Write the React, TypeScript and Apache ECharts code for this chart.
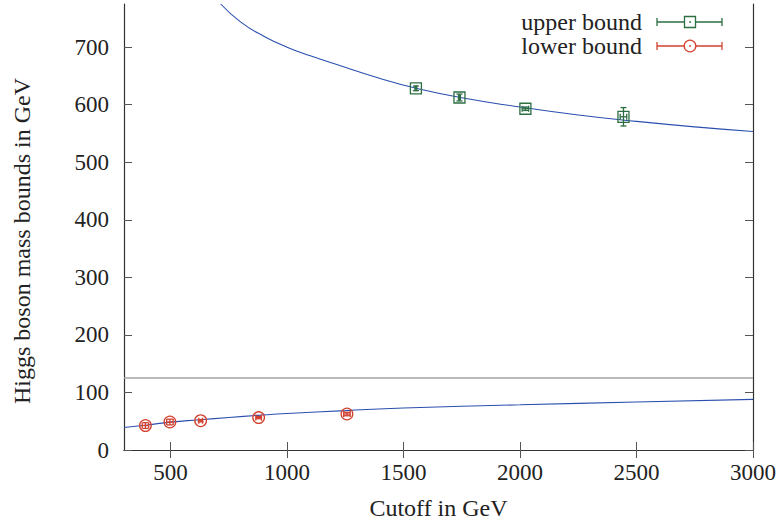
import React, { useEffect, useRef } from "react";
import * as echarts from "echarts";

// ---- data ----
const xMin = 300;
const xMax = 3000;
const yMin = 0;
const yMax = 775;
const xTicks = [500, 1000, 1500, 2000, 2500, 3000];
const yTicks = [0, 100, 200, 300, 400, 500, 600, 700];

const higgsMass = 125;

const upperCurveX = [715, 800, 900, 1000, 1100, 1200, 1400, 1550, 1750, 2000, 2250, 2500, 2750, 3000];
const upperCurveY = [775, 744, 719, 700, 685, 671.5, 645.5, 629, 612, 596, 582, 571, 561.5, 553.5];

const lowerCurveX = [300, 400, 500, 625, 750, 875, 1000, 1250, 1500, 2000, 2500, 3000];
const lowerCurveY = [39, 43.5, 48.5, 52.5, 56.5, 60.2, 63.5, 68.5, 73, 78.5, 83.5, 88];

const upperX = [1553, 1740, 2023, 2444];
const upperY = [628.5, 612.5, 593, 579];
const upperXErr = [4, 4, 14, 14];
const upperYErr = [4, 6, 3, 16];

const lowerX = [392, 497, 629, 878, 1257];
const lowerY = [42.5, 48.6, 50.9, 56.3, 62.5];
const lowerXErr = [14, 14, 8, 12, 14];
const lowerYErr = [5, 5, 2, 2, 3];

const legendNames = ["upper bound", "lower bound"];
const xTitle = "Cutoff in GeV";
const yTitle = "Higgs boson mass bounds in GeV";

// ---- styles ----
const FONT = "'Liberation Serif', serif";
const FS = 23;
const FT = 24;
const BLUE = "#2a4fae";
const GREEN = "#2d6e42";
const RED = "#d2412f";
const GRAY = "#a3a3a3";
const AXIS = "#333333";

const zip = (xs: number[], ys: number[]) => xs.map((x, i) => [x, ys[i]]);

function errRender(kind: "rect" | "circle", color: string) {
  return (params: any, api: any) => {
    const x = api.value(0);
    const y = api.value(1);
    const xe = api.value(2);
    const ye = api.value(3);
    const c = api.coord([x, y]);
    const l = api.coord([x - xe, y]);
    const r = api.coord([x + xe, y]);
    const t = api.coord([x, y + ye]);
    const b = api.coord([x, y - ye]);
    const cap = 3;
    const st = { stroke: color, lineWidth: 1.3 };
    const children: any[] = [
      { type: "line", shape: { x1: l[0], y1: l[1], x2: r[0], y2: r[1] }, style: st },
      { type: "line", shape: { x1: l[0], y1: l[1] - cap, x2: l[0], y2: l[1] + cap }, style: st },
      { type: "line", shape: { x1: r[0], y1: r[1] - cap, x2: r[0], y2: r[1] + cap }, style: st },
      { type: "line", shape: { x1: t[0], y1: t[1], x2: b[0], y2: b[1] }, style: st },
      { type: "line", shape: { x1: t[0] - cap, y1: t[1], x2: t[0] + cap, y2: t[1] }, style: st },
      { type: "line", shape: { x1: b[0] - cap, y1: b[1], x2: b[0] + cap, y2: b[1] }, style: st },
    ];
    if (kind === "rect") {
      children.push({
        type: "rect",
        shape: { x: c[0] - 5.5, y: c[1] - 5.5, width: 11, height: 11 },
        style: { fill: "none", stroke: color, lineWidth: 1.3 },
      });
    } else {
      children.push({
        type: "circle",
        shape: { cx: c[0], cy: c[1], r: 5.8 },
        style: { fill: "none", stroke: color, lineWidth: 1.3 },
      });
    }
    return { type: "group", children };
  };
}

function legendItem(y: number, label: string, color: string, kind: "rect" | "circle") {
  const st = { stroke: color, lineWidth: 1.3 };
  const x1 = 657;
  const x2 = 722;
  const cx = 690;
  return [
    {
      type: "text",
      x: 642,
      y,
      style: { text: label, align: "right", verticalAlign: "middle", fontSize: FT, fontFamily: FONT, fill: "#222" },
    },
    { type: "line", shape: { x1, y1: y, x2, y2: y }, style: st },
    { type: "line", shape: { x1, y1: y - 4, x2: x1, y2: y + 4 }, style: st },
    { type: "line", shape: { x1: x2, y1: y - 4, x2, y2: y + 4 }, style: st },
    kind === "rect"
      ? { type: "rect", shape: { x: cx - 5.5, y: y - 5.5, width: 11, height: 11 }, style: { fill: "#fff", stroke: color, lineWidth: 1.3 } }
      : { type: "circle", shape: { cx, cy: y, r: 5.8 }, style: { fill: "#fff", stroke: color, lineWidth: 1.3 } },
    { type: "circle", shape: { cx, cy: y, r: 0.9 }, style: { fill: color } },
  ];
}

const axisLineCommon = { show: true, lineStyle: { color: AXIS, width: 1.2 } };
const tickCommon = { show: true, inside: true, length: 8, lineStyle: { color: "#555", width: 1 } };
const plain = (v: number) => String(v);

const option: any = {
  animation: false,
  backgroundColor: "#fff",
  grid: { left: 124, right: 28, top: 4, bottom: 75, containLabel: false },
  xAxis: [
    {
      type: "value",
      min: xMin,
      max: xMax,
      position: "bottom",
      axisLine: axisLineCommon,
      axisTick: { ...tickCommon, customValues: xTicks },
      axisLabel: { customValues: xTicks, formatter: plain, fontSize: FS, fontFamily: FONT, color: "#222", margin: 11 },
      splitLine: { show: false },
      name: xTitle,
      nameLocation: "middle",
      nameGap: 46,
      nameTextStyle: { fontSize: FT, fontFamily: FONT, color: "#222" },
    },
    {
      type: "value",
      min: xMin,
      max: xMax,
      position: "top",
      axisLine: axisLineCommon,
      axisTick: { ...tickCommon, customValues: xTicks },
      axisLabel: { show: false },
      splitLine: { show: false },
    },
  ],
  yAxis: [
    {
      type: "value",
      min: yMin,
      max: yMax,
      position: "left",
      axisLine: axisLineCommon,
      axisTick: { ...tickCommon, customValues: yTicks },
      axisLabel: { customValues: yTicks, formatter: plain, fontSize: FS, fontFamily: FONT, color: "#222", margin: 15 },
      splitLine: { show: false },
    },
    {
      type: "value",
      min: yMin,
      max: yMax,
      position: "right",
      axisLine: axisLineCommon,
      axisTick: { ...tickCommon, customValues: yTicks },
      axisLabel: { show: false },
      splitLine: { show: false },
    },
  ],
  series: [
    {
      type: "line",
      data: [[xMin, higgsMass], [xMax, higgsMass]],
      symbol: "none",
      lineStyle: { color: GRAY, width: 1.6 },
      silent: true,
    },
    {
      type: "line",
      data: zip(upperCurveX, upperCurveY),
      smooth: 0.5,
      symbol: "none",
      clip: true,
      lineStyle: { color: BLUE, width: 1.1 },
    },
    {
      type: "line",
      data: zip(lowerCurveX, lowerCurveY),
      smooth: 0.5,
      symbol: "none",
      clip: true,
      lineStyle: { color: BLUE, width: 1.1 },
    },
    {
      type: "custom",
      name: legendNames[0],
      data: upperX.map((x, i) => [x, upperY[i], upperXErr[i], upperYErr[i]]),
      encode: { x: 0, y: 1 },
      renderItem: errRender("rect", GREEN),
      z: 5,
    },
    {
      type: "custom",
      name: legendNames[1],
      data: lowerX.map((x, i) => [x, lowerY[i], lowerXErr[i], lowerYErr[i]]),
      encode: { x: 0, y: 1 },
      renderItem: errRender("circle", RED),
      z: 5,
    },
  ],
  graphic: [
    {
      type: "text",
      x: 22,
      y: 241,
      rotation: Math.PI / 2,
      style: { text: yTitle, align: "center", verticalAlign: "middle", fontSize: FT, fontFamily: FONT, fill: "#222" },
    },
    ...legendItem(22, legendNames[0], GREEN, "rect"),
    ...legendItem(46, legendNames[1], RED, "circle"),
  ],
};

export default function App() {
  const ref = useRef<HTMLDivElement>(null);
  useEffect(() => {
    if (!ref.current) return;
    const chart = echarts.init(ref.current, null, { renderer: "svg" });
    chart.setOption(option);
    return () => chart.dispose();
  }, []);
  return (
    <div
      ref={ref}
      style={{ position: "fixed", left: 0, top: 0, width: 781, height: 525, background: "#fff" }}
    />
  );
}
